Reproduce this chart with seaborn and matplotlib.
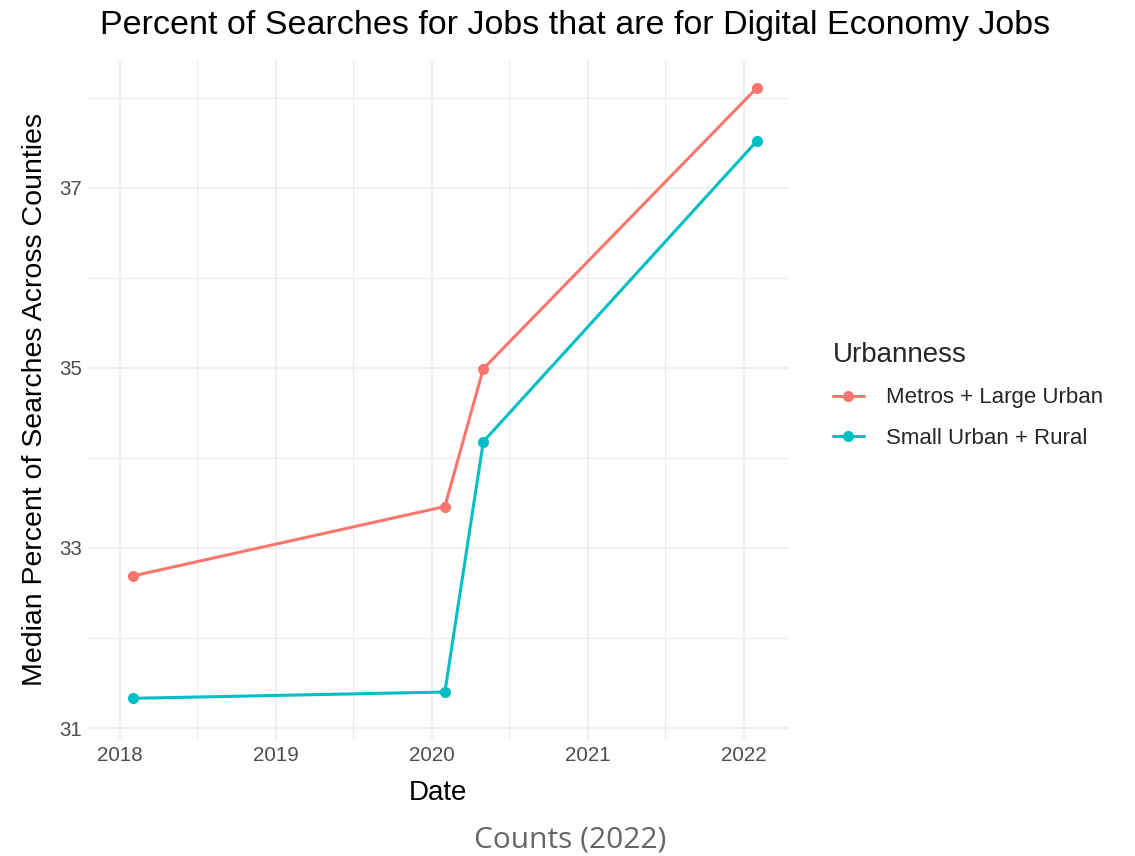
import pandas as pd
import seaborn as sns
import matplotlib.pyplot as plt
import matplotlib.dates as mdates
from matplotlib.ticker import FixedLocator
from matplotlib.lines import Line2D

# datos
dates = ['2018-02-01', '2020-02-01', '2020-05-01', '2022-02-01']
metros = [32.69, 33.46, 34.99, 38.11]
rural = [31.33, 31.40, 34.18, 37.52]
groups = ['Metros + Large Urban', 'Small Urban + Rural']
palette = ['#F8766D', '#00BFC4']
y_major = [31, 33, 35, 37]
y_minor = [32, 34, 36, 38]

df = pd.DataFrame({
    'Date': pd.to_datetime(dates * 2),
    'value': metros + rural,
    'Urbanness': [groups[0]] * len(dates) + [groups[1]] * len(dates),
})

sns.set_style('white')
plt.rcParams['font.family'] = ['Liberation Sans', 'DejaVu Sans']

fig = plt.figure(figsize=(11.35, 8.56), dpi=100)
ax = fig.add_axes([0.0775, 0.1355, 0.6165, 0.7945])

sns.lineplot(data=df, x='Date', y='value', hue='Urbanness', palette=palette,
             marker='o', markersize=8, markeredgewidth=0, linewidth=2.2,
             ax=ax, legend=False)

ax.set_xlim(pd.Timestamp('2017-10-18'), pd.Timestamp('2022-04-14'))
ax.set_ylim(30.867, 38.42)
ax.xaxis.set_major_locator(mdates.YearLocator())
ax.xaxis.set_major_formatter(mdates.DateFormatter('%Y'))
ax.xaxis.set_minor_locator(mdates.MonthLocator(bymonth=7))
ax.yaxis.set_major_locator(FixedLocator(y_major))
ax.yaxis.set_minor_locator(FixedLocator(y_minor))
ax.grid(which='major', color='#EBEBEB', linewidth=1.1)
ax.grid(which='minor', color='#EBEBEB', linewidth=0.7)
ax.set_axisbelow(True)
for s in ax.spines.values():
    s.set_visible(False)
ax.tick_params(which='both', length=0, labelsize=14.8, labelcolor='#4D4D4D', pad=4)

ax.set_xlabel('Date', fontsize=20, color='black', labelpad=11)
ax.set_ylabel('Median Percent of Searches Across Counties', fontsize=20.5, color='black', labelpad=8)
fig.text(0.088, 0.988, 'Percent of Searches for Jobs that are for Digital Economy Jobs',
         fontsize=24.5, color='black', va='top', ha='left')

handles = [Line2D([], [], color=c, marker='o', markersize=8, markeredgewidth=0, linewidth=2.2)
           for c in palette]
leg = fig.legend(handles, groups, title='Urbanness', loc='upper left',
                 bbox_to_anchor=(0.716, 0.624), frameon=False, fontsize=16,
                 title_fontsize=20, handlelength=1.4, handletextpad=1.0,
                 labelspacing=0.88)
leg._legend_box.align = 'left'

fig.text(0.502, 0.0187, 'Counts (2022)', fontsize=21.5, color='#666666',
         family=['Open Sans', 'DejaVu Sans'], ha='center', va='center')

plt.savefig('out.png', dpi=100)
